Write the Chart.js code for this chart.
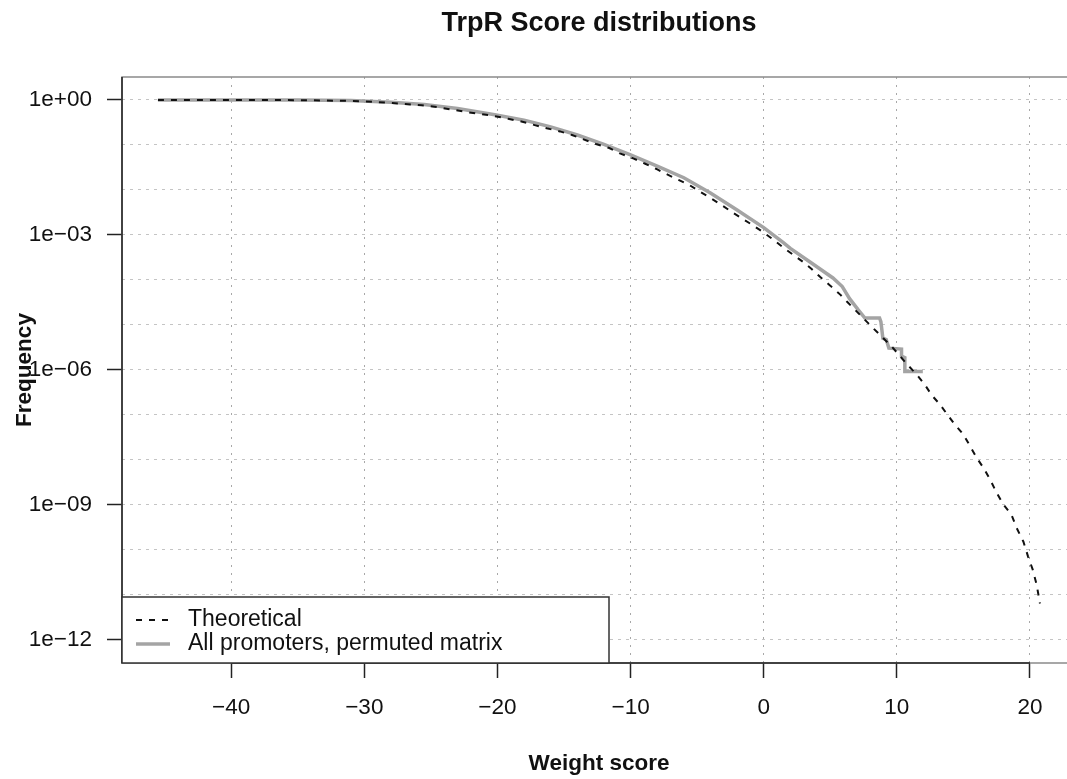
<!DOCTYPE html>
<html>
<head>
<meta charset="utf-8">
<title>TrpR Score distributions</title>
<script src="https://cdn.jsdelivr.net/npm/chart.js@4.4.1/dist/chart.umd.min.js"></script>
<style>
  html, body { margin: 0; padding: 0; background: #fff; }
  #wrap { width: 1067px; height: 779px; }
</style>
</head>
<body>
<div id="wrap"><canvas id="myChart" width="1067" height="779"></canvas></div>
<script>
// values: weight score and log10(frequency)
const theoScores = [-45.5, -40, -35, -31.2, -30, -27.9, -25.7, -24.5, -23.3, -22.3, -21.3, -20.2, -19.2, -18.2,
  -17.2, -16.3, -15.3, -14.4, -13.6, -12.6, -11.6, -10.8, -9.8, -8.9, -8.1, -7.3, -6.4, -5.6, -4.8, -4.0,
  -3.2, -2.35, -1.55, -0.85, -0.1, 0.65, 1.45, 2.2, 2.9, 3.6, 4.25, 5.0, 5.75, 6.3, 8.2, 9.6, 10.8, 11.5,
  12.1, 12.6, 13.2, 13.7, 14.3, 15.0, 15.5, 16.0, 16.5, 17.0, 17.5, 18.0, 18.6, 19.0, 19.5, 19.85, 20.2,
  20.5, 20.75];
const theoLogFreq = [0, 0, -0.005, -0.02, -0.03, -0.07, -0.12, -0.16, -0.22, -0.27, -0.31, -0.36, -0.42, -0.48,
  -0.56, -0.63, -0.70, -0.78, -0.87, -0.98, -1.07, -1.19, -1.30, -1.42, -1.53, -1.65, -1.78, -1.89, -2.04, -2.18,
  -2.33, -2.50, -2.65, -2.78, -2.93, -3.09, -3.28, -3.44, -3.59, -3.76, -3.94, -4.13, -4.33, -4.50, -5.07, -5.48,
  -5.89, -6.11, -6.33, -6.56, -6.76, -6.96, -7.20, -7.44, -7.70, -7.96, -8.18, -8.44, -8.74, -9.00, -9.22, -9.52,
  -9.82, -10.15, -10.44, -10.78, -11.2];

const permScores = [-45.5, -40, -35, -31, -28, -25.5, -23, -20.2, -18, -16, -14, -12, -10, -8, -6, -4, -2, 0,
  1.5, 2, 3.45, 5.2, 5.9, 6.45, 7.1, 7.6, 8.7, 8.8, 8.95, 9.2, 9.4, 10.35, 10.35, 10.6, 10.6, 11.95];
const permLogFreq = [0, 0, 0, -0.01, -0.05, -0.1, -0.19, -0.33, -0.45, -0.6, -0.78, -0.99, -1.22, -1.47, -1.73,
  -2.07, -2.45, -2.84, -3.18, -3.3, -3.6, -3.96, -4.15, -4.42, -4.67, -4.85, -4.85, -4.93, -5.30, -5.33, -5.52,
  -5.54, -5.70, -5.73, -6.04, -6.04];

const seriesNames = ['Theoretical', 'All promoters, permuted matrix'];
const xTicks = [-40, -30, -20, -10, 0, 10, 20];
const yDecades = [0, -1, -2, -3, -4, -5, -6, -7, -8, -9, -10, -11, -12];
const xLimits = [-48.2, 22.78];
const yLogLimits = [-12.51, 0.51];

const FONT = '"Liberation Sans", Arial, sans-serif';

function toPoints(xs, logs) {
  return xs.map((x, i) => ({ x: x, y: Math.pow(10, logs[i]) }));
}
function minusSign(s) {
  return String(s).replace('-', '\u2212');
}
function decadeOf(v) {
  return Math.round(Math.log10(v));
}
function decadeLabel(v) {
  const e = decadeOf(v);
  if (e % 3 !== 0) return '';
  const a = Math.abs(e);
  return '1e' + (e < 0 ? '\u2212' : '+') + (a < 10 ? '0' + a : a);
}

// title, axis frame, y title and the legend box, drawn like the R plot
const decorPlugin = {
  id: 'decor',
  afterDraw(chart) {
    const ctx = chart.ctx;
    const a = chart.chartArea;
    const xs = chart.scales.x;
    ctx.save();

    // plot box
    ctx.strokeStyle = '#8a8a8a';
    ctx.lineWidth = 1.5;
    ctx.strokeRect(a.left, a.top, a.right - a.left + 20, a.bottom - a.top);
    // axis lines
    ctx.strokeStyle = '#222';
    ctx.beginPath();
    ctx.moveTo(xs.getPixelForValue(xTicks[0]), a.bottom);
    ctx.lineTo(xs.getPixelForValue(xTicks[xTicks.length - 1]), a.bottom);
    ctx.moveTo(a.left, a.top);
    ctx.lineTo(a.left, a.bottom);
    ctx.stroke();

    // main title
    ctx.fillStyle = '#111';
    ctx.font = 'bold 27px ' + FONT;
    ctx.textAlign = 'center';
    ctx.textBaseline = 'alphabetic';
    ctx.fillText('TrpR Score distributions', 599, 31);

    // x title
    ctx.font = 'bold 22.5px ' + FONT;
    ctx.textBaseline = 'middle';
    ctx.fillText('Weight score', 599, 764);

    // y title (overlaps tick labels as in the original)
    ctx.save();
    ctx.translate(25, (a.top + a.bottom) / 2);
    ctx.rotate(-Math.PI / 2);
    ctx.fillText('Frequency', 0, 0);
    ctx.restore();

    // legend
    const lx = a.left, ly = 597, lw = 487, lh = a.bottom - 597;
    ctx.fillStyle = '#fff';
    ctx.fillRect(lx, ly, lw, lh);
    ctx.strokeStyle = '#333';
    ctx.lineWidth = 1.5;
    ctx.strokeRect(lx, ly, lw, lh);

    const ds = chart.data.datasets;
    const rows = [620, 644];
    ds.forEach((d, i) => {
      ctx.save();
      ctx.strokeStyle = d.borderColor;
      ctx.lineWidth = d.borderWidth;
      ctx.setLineDash(d.borderDash || []);
      ctx.beginPath();
      ctx.moveTo(136, rows[i]);
      ctx.lineTo(170, rows[i]);
      ctx.stroke();
      ctx.restore();
      ctx.fillStyle = '#111';
      ctx.font = '23px ' + FONT;
      ctx.textAlign = 'left';
      ctx.textBaseline = 'middle';
      ctx.fillText(d.label, 188, rows[i]);
    });
    ctx.restore();
  }
};

const chart = new Chart(document.getElementById('myChart').getContext('2d'), {
  type: 'scatter',
  data: {
    datasets: [
      {
        label: seriesNames[0],
        data: toPoints(theoScores, theoLogFreq),
        showLine: true,
        borderColor: '#111',
        borderWidth: 2,
        borderDash: [6, 7],
        pointRadius: 0,
        tension: 0
      },
      {
        label: seriesNames[1],
        data: toPoints(permScores, permLogFreq),
        showLine: true,
        borderColor: '#a4a4a4',
        borderWidth: 3.5,
        pointRadius: 0,
        tension: 0
      }
    ]
  },
  options: {
    responsive: false,
    animation: false,
    devicePixelRatio: 1,
    layout: { padding: { top: 77, left: 0, right: 0, bottom: 0 } },
    plugins: {
      legend: { display: false },
      tooltip: { enabled: false },
      title: { display: false }
    },
    scales: {
      x: {
        type: 'linear',
        min: xLimits[0],
        max: xLimits[1],
        afterBuildTicks: scale => { scale.ticks = xTicks.map(v => ({ value: v })); },
        afterFit: scale => { scale.height = 116; scale.paddingLeft = 0; scale.paddingRight = 0; },
        ticks: {
          autoSkip: false,
          maxRotation: 0,
          padding: 16,
          color: '#111',
          font: { family: FONT, size: 22.5 },
          callback: v => minusSign(v)
        },
        grid: {
          color: '#a8a8a8',
          lineWidth: 1,
          tickLength: 15,
          tickColor: '#222',
          tickWidth: 1.5
        },
        border: { display: false, dash: [2, 6] }
      },
      y: {
        type: 'logarithmic',
        min: Math.pow(10, yLogLimits[0]),
        max: Math.pow(10, yLogLimits[1]),
        afterBuildTicks: scale => { scale.ticks = yDecades.map(e => ({ value: Math.pow(10, e) })); },
        afterFit: scale => { scale.width = 122; scale.paddingTop = 0; scale.paddingBottom = 0; },
        ticks: {
          autoSkip: false,
          padding: 15,
          color: '#111',
          font: { family: FONT, size: 22.5 },
          callback: v => decadeLabel(v)
        },
        grid: {
          color: '#c4c4c4',
          lineWidth: 1,
          tickLength: 15,
          tickWidth: 1.5,
          tickColor: ctx => (ctx.tick && decadeOf(ctx.tick.value) % 3 === 0) ? '#222' : 'rgba(0,0,0,0)'
        },
        border: { display: false, dash: [3, 5] }
      }
    }
  },
  plugins: [decorPlugin]
});
</script>
</body>
</html>
